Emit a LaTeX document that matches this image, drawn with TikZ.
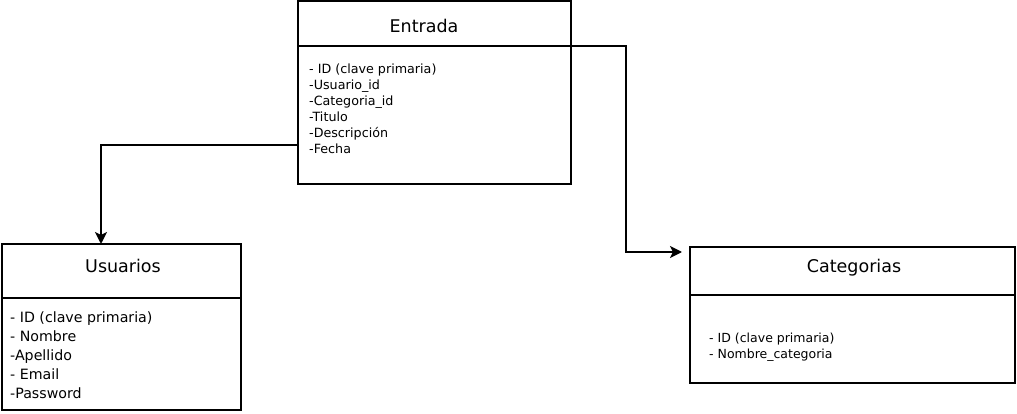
\documentclass[tikz,border=0pt]{standalone}
\usepackage{fontspec}
\setmainfont{DejaVu Sans}
\usetikzlibrary{arrows.meta}

\begin{document}
\begin{tikzpicture}[x=1pt,y=-1pt,
  box/.style n args={2}{draw,line width=2pt,rectangle,inner sep=0pt,outer sep=0pt,anchor=north west,minimum width=#1pt,minimum height=#2pt},
  ttl/.style={anchor=base,inner sep=0pt,font=\fontsize{17.5}{21}\selectfont},
  attr/.style n args={2}{anchor=north west,inner sep=0pt,align=left,font=\fontsize{#1}{#2}\selectfont},
  link/.style={line width=2pt,-{Stealth[length=12pt,width=12pt,inset=3pt]}}]
\useasboundingbox (0,0) rectangle (1017,414);
% Entrada
\node[box={273}{45}] (entradaHdr) at (298,1.5) {};
\node[box={273}{138}] (entradaBody) at (entradaHdr.south west) {};
\node[ttl] (entradaTtl) at (424,33) {Entrada};
\node[attr={12.7}{16}] (entradaAttr) at (309,64) {- ID (clave primaria)\\-Usuario\_id\\-Categoria\_id\\-Titulo\\-Descripción\\-Fecha};
% Usuarios
\node[box={239}{54}] (usuariosHdr) at (2,244) {};
\node[box={239}{112}] (usuariosBody) at (usuariosHdr.south west) {};
\node[ttl] (usuariosTtl) at (123,272) {Usuarios};
\node[attr={14.2}{19}] (usuariosAttr) at (10,312) {- ID (clave primaria)\\- Nombre\\-Apellido\\- Email\\-Password};
% Categorias
\node[box={325}{48}] (categoriasHdr) at (690,247) {};
\node[box={325}{88}] (categoriasBody) at (categoriasHdr.south west) {};
\node[ttl] (categoriasTtl) at (854,272) {Categorias};
\node[attr={12.5}{16}] (categoriasAttr) at (709,332.5) {- ID (clave primaria)\\- Nombre\_categoria};
% relations
\draw[link] ([yshift=-30pt]entradaBody.west) -| ([xshift=-20.5pt]usuariosHdr.north);
\draw[link] (entradaHdr.south east) -- ++(55,0) |- ([xshift=-8pt,yshift=19pt]categoriasHdr.west);
\end{tikzpicture}
\end{document}
